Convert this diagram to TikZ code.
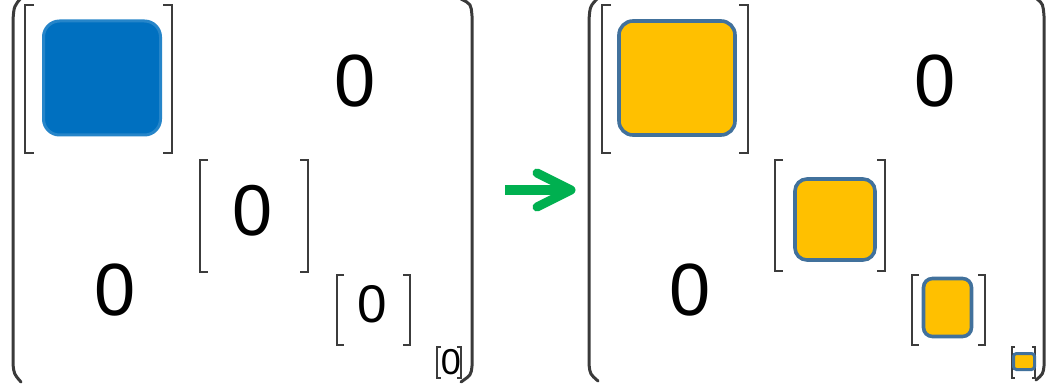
\documentclass[tikz,border=0pt]{standalone}
\usepackage{fontspec}
\setmainfont{Liberation Sans}
\definecolor{inkgrey}{HTML}{3C3C3C}
\definecolor{parengrey}{HTML}{3A3A3A}
\definecolor{blockblue}{HTML}{0070C0}
\definecolor{blockyellow}{HTML}{FFC000}
\definecolor{edgeblue}{HTML}{41719C}
\definecolor{arrowgreen}{HTML}{00B050}
\tikzset{
  brk/.style={draw=inkgrey, line width=2.8pt},
  paren/.style={draw=parengrey, line width=3pt, line cap=round},
  bluesq/.style={fill=blockblue, draw=blockblue!85, line width=3pt, rounded corners=16pt, inner sep=0pt},
  yelsq/.style={fill=blockyellow, draw=edgeblue, line width=3.6pt, rounded corners=#1, inner sep=0pt},
  yelsq/.default=14pt,
  zero/.style={inner sep=0pt, text=black, font=\fontsize{#1}{#1}\selectfont},
}
% square bracket pair: left x, right x, top y, bottom y, tick length
\newcommand\bracketpair[5]{%
  \draw[brk] (#1+#5,#3) -- (#1,#3) -- (#1,#4) -- (#1+#5,#4);
  \draw[brk] (#2-#5,#3) -- (#2,#3) -- (#2,#4) -- (#2-#5,#4);}
\begin{document}
\begin{tikzpicture}[x=1pt,y=-1pt]
\useasboundingbox (0,0) rectangle (1049,387);

% ---------- left block-diagonal matrix ----------
\draw[paren] (22,-3) .. controls (14,6) .. (13,20) -- (13,364) .. controls (14,374) .. (21,382);
\draw[paren] (461,-1) .. controls (471,4) .. (472,16) -- (472,366) .. controls (471,375) .. (461,382);

\bracketpair{25}{172}{5}{153}{9}
\node[bluesq, minimum width=117pt, minimum height=114pt] (lb1) at (102,78) {};
\node[zero=74] (lz1) at (355,81) {0};
\bracketpair{200}{308}{160}{272}{8}
\node[zero=72] (lb2) at (253,211) {0};
\node[zero=74] (lz2) at (115,290) {0};
\bracketpair{337}{410}{275}{345}{7}
\node[zero=53] (lb3) at (372,304) {0};
\bracketpair{437}{461}{347}{378}{4}
\node[zero=36] (lb4) at (451,362) {0};

% ---------- arrow ----------
\coordinate (as) at (505,190);
\coordinate (ae) at (571,190);
\draw[arrowgreen, line width=10pt] (as) -- ([xshift=-4pt]ae);
\draw[arrowgreen, line width=9pt, line cap=round, line join=round]
  ([xshift=-34pt,yshift=-17pt]ae) -- (ae) -- ([xshift=-34pt,yshift=17pt]ae);

% ---------- right block-diagonal matrix ----------
\draw[paren] (599,-3) .. controls (590,6) .. (589,20) -- (589,364) .. controls (590,374) .. (598,381);
\draw[paren] (1037,-1) .. controls (1043,4) .. (1044,16) -- (1044,366) .. controls (1043,374) .. (1036,380);

\bracketpair{602}{748}{5}{153}{9}
\node[yelsq, minimum width=116pt, minimum height=114pt] (rb1) at (677,78) {};
\node[zero=74] (rz1) at (935,81) {0};
\bracketpair{775}{885}{160}{271}{8}
\node[yelsq=12pt, minimum width=80pt, minimum height=81pt] (rb2) at (835,219.5) {};
\node[zero=74] (rz2) at (690,290) {0};
\bracketpair{912}{985}{275}{345}{7}
\node[yelsq=9pt, minimum width=48pt, minimum height=58pt] (rb3) at (947.5,307.5) {};
\bracketpair{1012}{1035}{347}{378}{3}
\node[yelsq=3pt, minimum width=21pt, minimum height=16pt, line width=3pt] (rb4) at (1024,361.5) {};
\end{tikzpicture}
\end{document}
